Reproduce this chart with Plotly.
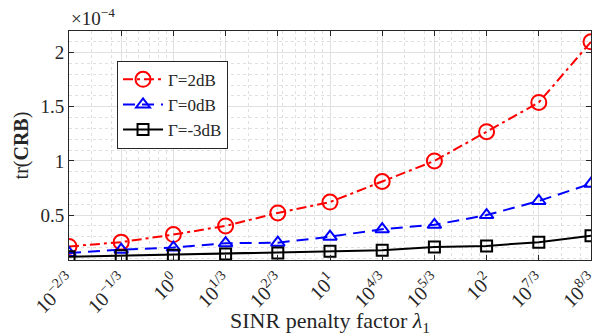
import plotly.graph_objects as go

exponents = [-2, -1, 0, 1, 2, 3, 4, 5, 6, 7, 8]  # lambda = 10^(k/3)
tick_labels = ["10<sup>−2/3</sup>", "10<sup>−1/3</sup>", "10<sup>0</sup>", "10<sup>1/3</sup>",
               "10<sup>2/3</sup>", "10<sup>1</sup>", "10<sup>4/3</sup>", "10<sup>5/3</sup>",
               "10<sup>2</sup>", "10<sup>7/3</sup>", "10<sup>8/3</sup>"]
crb_2dB = [0.21, 0.25, 0.32, 0.40, 0.52, 0.62, 0.81, 1.00, 1.27, 1.54, 2.10]   # x 1e-4
crb_0dB = [0.15, 0.18, 0.20, 0.24, 0.245, 0.30, 0.37, 0.41, 0.50, 0.63, 0.79]
crb_m3dB = [0.115, 0.125, 0.13, 0.14, 0.15, 0.165, 0.175, 0.205, 0.215, 0.25, 0.31]

lam = [10 ** (k / 3) for k in exponents]
# log-axis minor grid positions (2..9 x 10^n)
minor_vals = [m * 10 ** n for n in range(-1, 3) for m in range(2, 10)]

FONT = "Liberation Serif"
INK = "#262626"

fig = go.Figure()
fig.add_trace(go.Scatter(x=lam, y=crb_2dB, name="Γ=2dB", mode="lines+markers",
                         line=dict(color="#ff0000", width=2, dash="10px,4px,3px,4px"),
                         marker=dict(symbol="circle-open", size=15, color="#ff0000", line=dict(width=2))))
fig.add_trace(go.Scatter(x=lam, y=crb_0dB, name="Γ=0dB", mode="lines+markers",
                         line=dict(color="#0000ff", width=2, dash="12px,7px"),
                         marker=dict(symbol="triangle-up-open", size=12, color="#0000ff", line=dict(width=2))))
fig.add_trace(go.Scatter(x=lam, y=crb_m3dB, name="Γ=-3dB", mode="lines+markers",
                         line=dict(color="#000000", width=2),
                         marker=dict(symbol="square-open", size=11, color="#000000", line=dict(width=2))))

fig.update_layout(
    width=601, height=336,
    margin=dict(l=69, r=10, t=31, b=76),
    paper_bgcolor="white", plot_bgcolor="white",
    font=dict(family=FONT, size=19, color=INK),
    showlegend=True,
    legend=dict(x=0.092, y=0.87, xanchor="left", yanchor="top",
                bordercolor=INK, borderwidth=1, bgcolor="white",
                font=dict(family=FONT, size=17, color=INK),
                tracegroupgap=0, itemwidth=40),
    xaxis=dict(type="log", range=[-2 / 3, 8 / 3], automargin=False,
               tickvals=lam, ticktext=tick_labels, tickangle=-45,
               tickfont=dict(family=FONT, size=20, color=INK),
               ticks="inside", ticklen=5, tickcolor=INK,
               showline=True, linecolor=INK, linewidth=1, mirror="ticks",
               showgrid=True, gridcolor="#e0e0e0", gridwidth=1,
               minor=dict(tickvals=minor_vals, showgrid=True, gridcolor="#e0e0e0",
                          griddash="dot", ticks=""),
               zeroline=False,
               title=dict(text="SINR penalty factor <i>λ</i><sub>1</sub>", standoff=0,
                          font=dict(family=FONT, size=22, color=INK))),
    yaxis=dict(range=[0.085, 2.2], automargin=False,
               tickvals=[0.5, 1, 1.5, 2], ticktext=["0.5", "1", "1.5", "2"],
               tickfont=dict(family=FONT, size=19, color=INK),
               ticks="inside", ticklen=5, tickcolor=INK,
               showline=True, linecolor=INK, linewidth=1, mirror="ticks",
               showgrid=True, gridcolor="#e0e0e0", gridwidth=1,
               minor=dict(dtick=0.1, tick0=0, showgrid=True, gridcolor="#e0e0e0",
                          griddash="dot", ticks=""),
               zeroline=False,
               title=dict(text="tr(<b>CRB</b>)", standoff=6, font=dict(family=FONT, size=20, color=INK))),
)
fig.add_annotation(text="×10<sup>−4</sup>", xref="paper", yref="paper", x=0.0, y=1.0,
                   xanchor="left", yanchor="bottom", yshift=0, showarrow=False,
                   font=dict(family=FONT, size=19, color=INK))

fig.write_html("out.html", config={"displayModeBar": False},
               post_script="document.body.style.margin='0';document.body.style.padding='0';")
